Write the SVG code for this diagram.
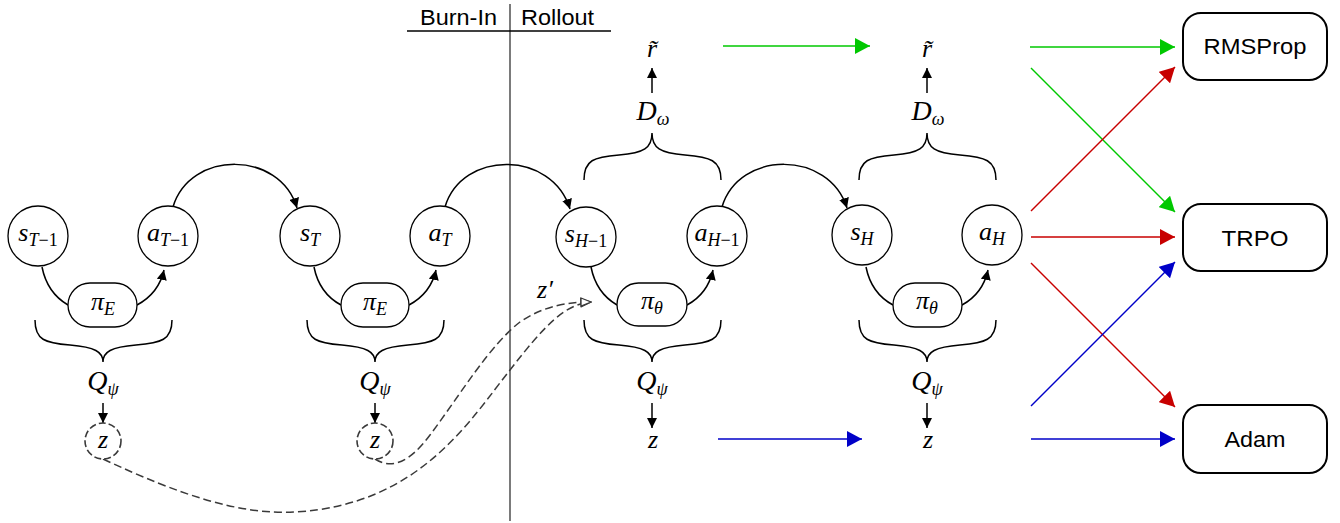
<svg xmlns="http://www.w3.org/2000/svg" width="1340" height="523" viewBox="0 0 1340 523">
  <style>
    .node { fill: #fff; stroke: #000; stroke-width: 1.3; }
    .zc { fill: #fff; stroke: #3a3a3a; stroke-width: 1.6; stroke-dasharray: 7 3; }
    .box { fill: #fff; stroke: #000; stroke-width: 2; }
    .edge { fill: none; stroke: #000; stroke-width: 1.5; }
    .brace { fill: none; stroke: #000; stroke-width: 1.5; }
    .dash { fill: none; stroke: #3a3a3a; stroke-width: 1.5; stroke-dasharray: 8 4; }
    .m { font-family: "Liberation Serif", "DejaVu Serif", serif; font-style: italic; font-size: 26px; fill: #000; }
    .big { font-size: 28px; }
    .s { font-size: 18px; }
    .up { font-style: normal; }
    .sans { font-family: "Liberation Sans", "DejaVu Sans", sans-serif; font-size: 22px; fill: #000; }
    .g { stroke: #00c800; stroke-width: 1.5; fill: none; }
    .r { stroke: #c80000; stroke-width: 1.5; fill: none; }
    .b { stroke: #0000c8; stroke-width: 1.5; fill: none; }
  </style>
  <defs>
    <marker id="ah" viewBox="0 0 10 10" refX="10" refY="5" markerWidth="10" markerHeight="10" markerUnits="userSpaceOnUse" orient="auto">
      <path d="M0,0 L10,5 L0,10 Z" fill="#000"/>
    </marker>
    <marker id="ahOpen" viewBox="0 0 12 10" refX="11" refY="5" markerWidth="12" markerHeight="10" markerUnits="userSpaceOnUse" orient="auto">
      <path d="M1,1 L11,5 L1,9 Z" fill="#fff" stroke="#3a3a3a" stroke-width="1.3"/>
    </marker>
    <marker id="ahG" viewBox="0 0 15 16" refX="15" refY="8" markerWidth="15" markerHeight="16" markerUnits="userSpaceOnUse" orient="auto">
      <path d="M0,0 L15,8 L0,16 Z" fill="#00c800"/>
    </marker>
    <marker id="ahR" viewBox="0 0 15 16" refX="15" refY="8" markerWidth="15" markerHeight="16" markerUnits="userSpaceOnUse" orient="auto">
      <path d="M0,0 L15,8 L0,16 Z" fill="#c80000"/>
    </marker>
    <marker id="ahB" viewBox="0 0 15 16" refX="15" refY="8" markerWidth="15" markerHeight="16" markerUnits="userSpaceOnUse" orient="auto">
      <path d="M0,0 L15,8 L0,16 Z" fill="#0000c8"/>
    </marker>
  </defs>

  <rect width="1340" height="523" fill="#fff"/>

  <!-- phase header and separator -->
  <g id="phase-header">
    <line x1="510" y1="4" x2="510" y2="521" stroke="#333" stroke-width="1.3"/>
    <line x1="407" y1="31" x2="611" y2="31" stroke="#000" stroke-width="1.3"/>
    <text class="sans" x="458.5" y="25" text-anchor="middle" font-size="21" textLength="77" lengthAdjust="spacingAndGlyphs">Burn-In</text>
    <text class="sans" x="557.5" y="25" text-anchor="middle" font-size="21" textLength="73" lengthAdjust="spacingAndGlyphs">Rollout</text>
  </g>

  <!-- connectors -->
  <g id="connectors">
    <!-- state -> policy -> action -->
    <path class="edge" d="M42,267 C46,287 56,298 68,305"/>
    <path class="edge" d="M137,305 C150,298 160,288 164,270" marker-end="url(#ah)"/>
    <path class="edge" d="M314,267 C318,287 328,298 341,305"/>
    <path class="edge" d="M409,305 C422,298 432,288 436,270" marker-end="url(#ah)"/>
    <path class="edge" d="M591,267 C595,287 605,298 617,305"/>
    <path class="edge" d="M687,305 C700,298 709,288 713,270" marker-end="url(#ah)"/>
    <path class="edge" d="M866,267 C870,287 880,298 893,305"/>
    <path class="edge" d="M962,305 C975,298 984,288 988,270" marker-end="url(#ah)"/>

    <!-- action -> next state -->
    <path class="edge" d="M173,207 C190,150 280,150 297,208" marker-end="url(#ah)"/>
    <path class="edge" d="M445,207 C462,150 552,150 570,209" marker-end="url(#ah)"/>
    <path class="edge" d="M722,207 C739,150 829,150 847,208" marker-end="url(#ah)"/>

    <!-- braces below the policies -->
    <path class="brace" d="M35,320 C35,340 45,343 70,345 C95,347 103,352 103,362 C103,352 111,347 136,345 C161,343 172,340 172,320"/>
    <path class="brace" d="M307,320 C307,340 317,343 342,345 C367,347 375,352 375,362 C375,352 383,347 408,345 C433,343 444,340 444,320"/>
    <path class="brace" d="M584,320 C584,340 594,343 619,345 C644,347 652,352 652,362 C652,352 660,347 685,345 C710,343 721,340 721,320"/>
    <path class="brace" d="M859,320 C859,340 869,343 894,345 C919,347 927,352 927,362 C927,352 935,347 960,345 C985,343 996,340 996,320"/>

    <!-- braces above state/action pairs -->
    <path class="brace" d="M584,180 C584,160 594,157 619,155 C644,153 652,148 652,133 C652,148 660,153 685,155 C710,157 721,160 721,180"/>
    <path class="brace" d="M859,180 C859,160 869,157 894,155 C919,153 927,148 927,133 C927,148 935,153 960,155 C985,157 996,160 996,180"/>

    <!-- encoder -> latent -->
    <line class="edge" x1="103" y1="403" x2="103" y2="423" marker-end="url(#ah)"/>
    <line class="edge" x1="375" y1="403" x2="375" y2="423" marker-end="url(#ah)"/>
    <line class="edge" x1="652" y1="403" x2="652" y2="428" marker-end="url(#ah)"/>
    <line class="edge" x1="927" y1="403" x2="927" y2="428" marker-end="url(#ah)"/>

    <!-- discriminator -> reward -->
    <line class="edge" x1="652" y1="93" x2="652" y2="68" marker-end="url(#ah)"/>
    <line class="edge" x1="927" y1="93" x2="927" y2="68" marker-end="url(#ah)"/>

    <!-- latent carried into the rollout -->
    <path class="dash" d="M103,459 C180,495 240,515 295,512 C420,505 470,420 510,370 C545,325 565,304 591,302" marker-end="url(#ahOpen)"/>
    <path class="dash" d="M375,459 C392,470 410,462 430,435 C460,395 490,345 520,322 C545,305 570,302 591,302" marker-end="url(#ahOpen)"/>

    <!-- gradient flows -->
    <line class="g" x1="723" y1="46" x2="870" y2="46" marker-end="url(#ahG)"/>
    <line class="b" x1="718" y1="439" x2="862" y2="439" marker-end="url(#ahB)"/>
    <line class="g" x1="1030" y1="47" x2="1175" y2="47" marker-end="url(#ahG)"/>
    <line class="g" x1="1031" y1="68" x2="1175" y2="212" marker-end="url(#ahG)"/>
    <line class="r" x1="1031" y1="211" x2="1175" y2="67" marker-end="url(#ahR)"/>
    <line class="r" x1="1031" y1="237" x2="1175" y2="237" marker-end="url(#ahR)"/>
    <line class="r" x1="1031" y1="263" x2="1175" y2="407" marker-end="url(#ahR)"/>
    <line class="b" x1="1031" y1="406" x2="1175" y2="262" marker-end="url(#ahB)"/>
    <line class="b" x1="1031" y1="439" x2="1175" y2="439" marker-end="url(#ahB)"/>
  </g>

  <!-- expert burn-in, step T-1 -->
  <g id="s_Tm1">
    <circle class="node" cx="38" cy="236" r="30"/>
    <text class="m" x="38" y="241" text-anchor="middle">s<tspan class="s" dy="5">T</tspan><tspan class="s up">−1</tspan></text>
  </g>
  <g id="a_Tm1">
    <circle class="node" cx="168" cy="236" r="30"/>
    <text class="m" x="168" y="241" text-anchor="middle">a<tspan class="s" dy="5">T</tspan><tspan class="s up">−1</tspan></text>
  </g>
  <g id="pi_E_1">
    <rect class="node" x="68" y="283" width="69" height="44" rx="22"/>
    <text class="m" x="103" y="310" text-anchor="middle">π<tspan class="s" dy="5">E</tspan></text>
  </g>
  <g id="Q_1">
    <text class="m big" x="103" y="390" text-anchor="middle">Q<tspan class="s" dy="5">ψ</tspan></text>
  </g>
  <g id="z_1">
    <circle class="zc" cx="103" cy="441" r="18"/>
    <text class="m" x="103" y="448" text-anchor="middle">z</text>
  </g>

  <!-- expert burn-in, step T -->
  <g id="s_T">
    <circle class="node" cx="310" cy="236" r="30"/>
    <text class="m" x="310" y="241" text-anchor="middle">s<tspan class="s" dy="5">T</tspan></text>
  </g>
  <g id="a_T">
    <circle class="node" cx="440" cy="236" r="30"/>
    <text class="m" x="440" y="241" text-anchor="middle">a<tspan class="s" dy="5">T</tspan></text>
  </g>
  <g id="pi_E_2">
    <rect class="node" x="341" y="283" width="68" height="44" rx="22"/>
    <text class="m" x="375" y="310" text-anchor="middle">π<tspan class="s" dy="5">E</tspan></text>
  </g>
  <g id="Q_2">
    <text class="m big" x="375" y="390" text-anchor="middle">Q<tspan class="s" dy="5">ψ</tspan></text>
  </g>
  <g id="z_2">
    <circle class="zc" cx="375" cy="441" r="18"/>
    <text class="m" x="375" y="448" text-anchor="middle">z</text>
  </g>

  <!-- rollout, step H-1 -->
  <g id="s_Hm1">
    <circle class="node" cx="586" cy="237" r="30"/>
    <text class="m" x="586" y="242" text-anchor="middle">s<tspan class="s" dy="5">H</tspan><tspan class="s up">−1</tspan></text>
  </g>
  <g id="a_Hm1">
    <circle class="node" cx="717" cy="236" r="30"/>
    <text class="m" x="717" y="241" text-anchor="middle">a<tspan class="s" dy="5">H</tspan><tspan class="s up">−1</tspan></text>
  </g>
  <g id="pi_theta_1">
    <rect class="node" x="617" y="283" width="70" height="43" rx="21.5"/>
    <text class="m" x="652" y="309" text-anchor="middle">π<tspan class="s" dy="5">θ</tspan></text>
  </g>
  <g id="Q_3">
    <text class="m big" x="652" y="390" text-anchor="middle">Q<tspan class="s" dy="5">ψ</tspan></text>
  </g>
  <g id="z_3">
    <text class="m" x="653" y="448" text-anchor="middle">z</text>
  </g>
  <g id="D_1">
    <text class="m big" x="653" y="120" text-anchor="middle">D<tspan class="s" dy="5">ω</tspan></text>
  </g>
  <g id="r_1">
    <text class="m" x="652" y="57" text-anchor="middle">r&#x303;</text>
  </g>
  <g id="z_prime">
    <text class="m" x="545" y="298" text-anchor="middle">z′</text>
  </g>

  <!-- rollout, step H -->
  <g id="s_H">
    <circle class="node" cx="862" cy="235" r="30"/>
    <text class="m" x="862" y="240" text-anchor="middle">s<tspan class="s" dy="5">H</tspan></text>
  </g>
  <g id="a_H">
    <circle class="node" cx="992" cy="235" r="30"/>
    <text class="m" x="992" y="240" text-anchor="middle">a<tspan class="s" dy="5">H</tspan></text>
  </g>
  <g id="pi_theta_2">
    <rect class="node" x="893" y="283" width="69" height="44" rx="22"/>
    <text class="m" x="927" y="309" text-anchor="middle">π<tspan class="s" dy="5">θ</tspan></text>
  </g>
  <g id="Q_4">
    <text class="m big" x="927" y="390" text-anchor="middle">Q<tspan class="s" dy="5">ψ</tspan></text>
  </g>
  <g id="z_4">
    <text class="m" x="928" y="448" text-anchor="middle">z</text>
  </g>
  <g id="D_2">
    <text class="m big" x="928" y="120" text-anchor="middle">D<tspan class="s" dy="5">ω</tspan></text>
  </g>
  <g id="r_2">
    <text class="m" x="927" y="57" text-anchor="middle">r&#x303;</text>
  </g>

  <!-- optimisers -->
  <g id="RMSProp">
    <rect class="box" x="1183" y="13" width="144" height="67" rx="18"/>
    <text class="sans" x="1255" y="54" text-anchor="middle" font-size="23" textLength="103" lengthAdjust="spacingAndGlyphs">RMSProp</text>
  </g>
  <g id="TRPO">
    <rect class="box" x="1183" y="204" width="144" height="67" rx="18"/>
    <text class="sans" x="1255" y="246" text-anchor="middle" font-size="23" textLength="67" lengthAdjust="spacingAndGlyphs">TRPO</text>
  </g>
  <g id="Adam">
    <rect class="box" x="1183" y="405" width="144" height="68" rx="18"/>
    <text class="sans" x="1255" y="447" text-anchor="middle" font-size="23" textLength="61" lengthAdjust="spacingAndGlyphs">Adam</text>
  </g>
</svg>
